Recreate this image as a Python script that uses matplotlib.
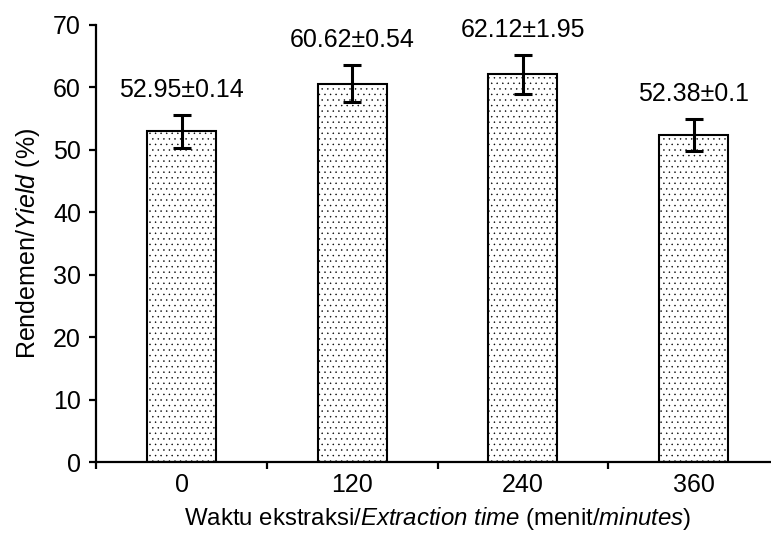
import matplotlib
matplotlib.use("Agg")
import matplotlib.pyplot as plt
import numpy as np

plt.rcParams['font.family'] = ['Liberation Sans', 'DejaVu Sans']
plt.rcParams['mathtext.fontset'] = 'custom'
plt.rcParams['mathtext.rm'] = 'Liberation Sans'
plt.rcParams['mathtext.it'] = 'Liberation Sans:italic'
plt.rcParams['hatch.linewidth'] = 0.3
plt.rcParams['hatch.color'] = '#333333'

categories = ['0', '120', '240', '360']
values = [52.95, 60.62, 62.12, 52.38]
sd = [0.14, 0.54, 1.95, 0.1]
errors = [2.65, 3.03, 3.11, 2.62]
labels = [f"{v}±{s}" for v, s in zip(values, sd)]
yticks = [0, 10, 20, 30, 40, 50, 60, 70]

FS = 18

fig = plt.figure(figsize=(7.71, 5.40), dpi=100)
ax = fig.add_axes([96.2 / 771, 78 / 540, (779 - 96.2) / 771, (462 - 25) / 540])

x = np.arange(len(categories))
bars = ax.bar(x, values, width=0.404, color='white', edgecolor='black',
              linewidth=1.5, hatch='...', zorder=2)
ax.errorbar(x, values, yerr=errors, fmt='none', ecolor='black',
            elinewidth=2.2, capsize=6.5, capthick=2.2, zorder=3)

for xi, v, e, lab in zip(x, values, errors, labels):
    ax.annotate(lab, (xi, v + e), xytext=(0, 9), textcoords='offset points',
                ha='center', va='bottom', fontsize=FS)

ax.set_xlim(-0.5, len(categories) - 0.5)
ax.set_ylim(0, 70)
ax.set_yticks(yticks)
ax.set_xticks(x)
ax.set_xticklabels(categories)
ax.set_xticks(np.arange(len(categories) + 1) - 0.5, minor=True)
ax.tick_params(axis='x', which='major', length=0, labelsize=FS, pad=8)
ax.tick_params(axis='x', which='minor', length=5, width=1.6, direction='out')
ax.tick_params(axis='y', length=5, width=1.6, direction='out', labelsize=FS, pad=6)

for s in ['top', 'right']:
    ax.spines[s].set_visible(False)
for s in ['left', 'bottom']:
    ax.spines[s].set_linewidth(1.6)

ax.set_ylabel(r"Rendemen/$\mathit{Yield}$ (%)", fontsize=FS, labelpad=8)
ax.set_xlabel(r"Waktu ekstraksi/$\mathit{Extraction\ time}$ (menit/$\mathit{minutes}$)",
              fontsize=17.3, labelpad=6)

fig.savefig("out.png", dpi=100)
